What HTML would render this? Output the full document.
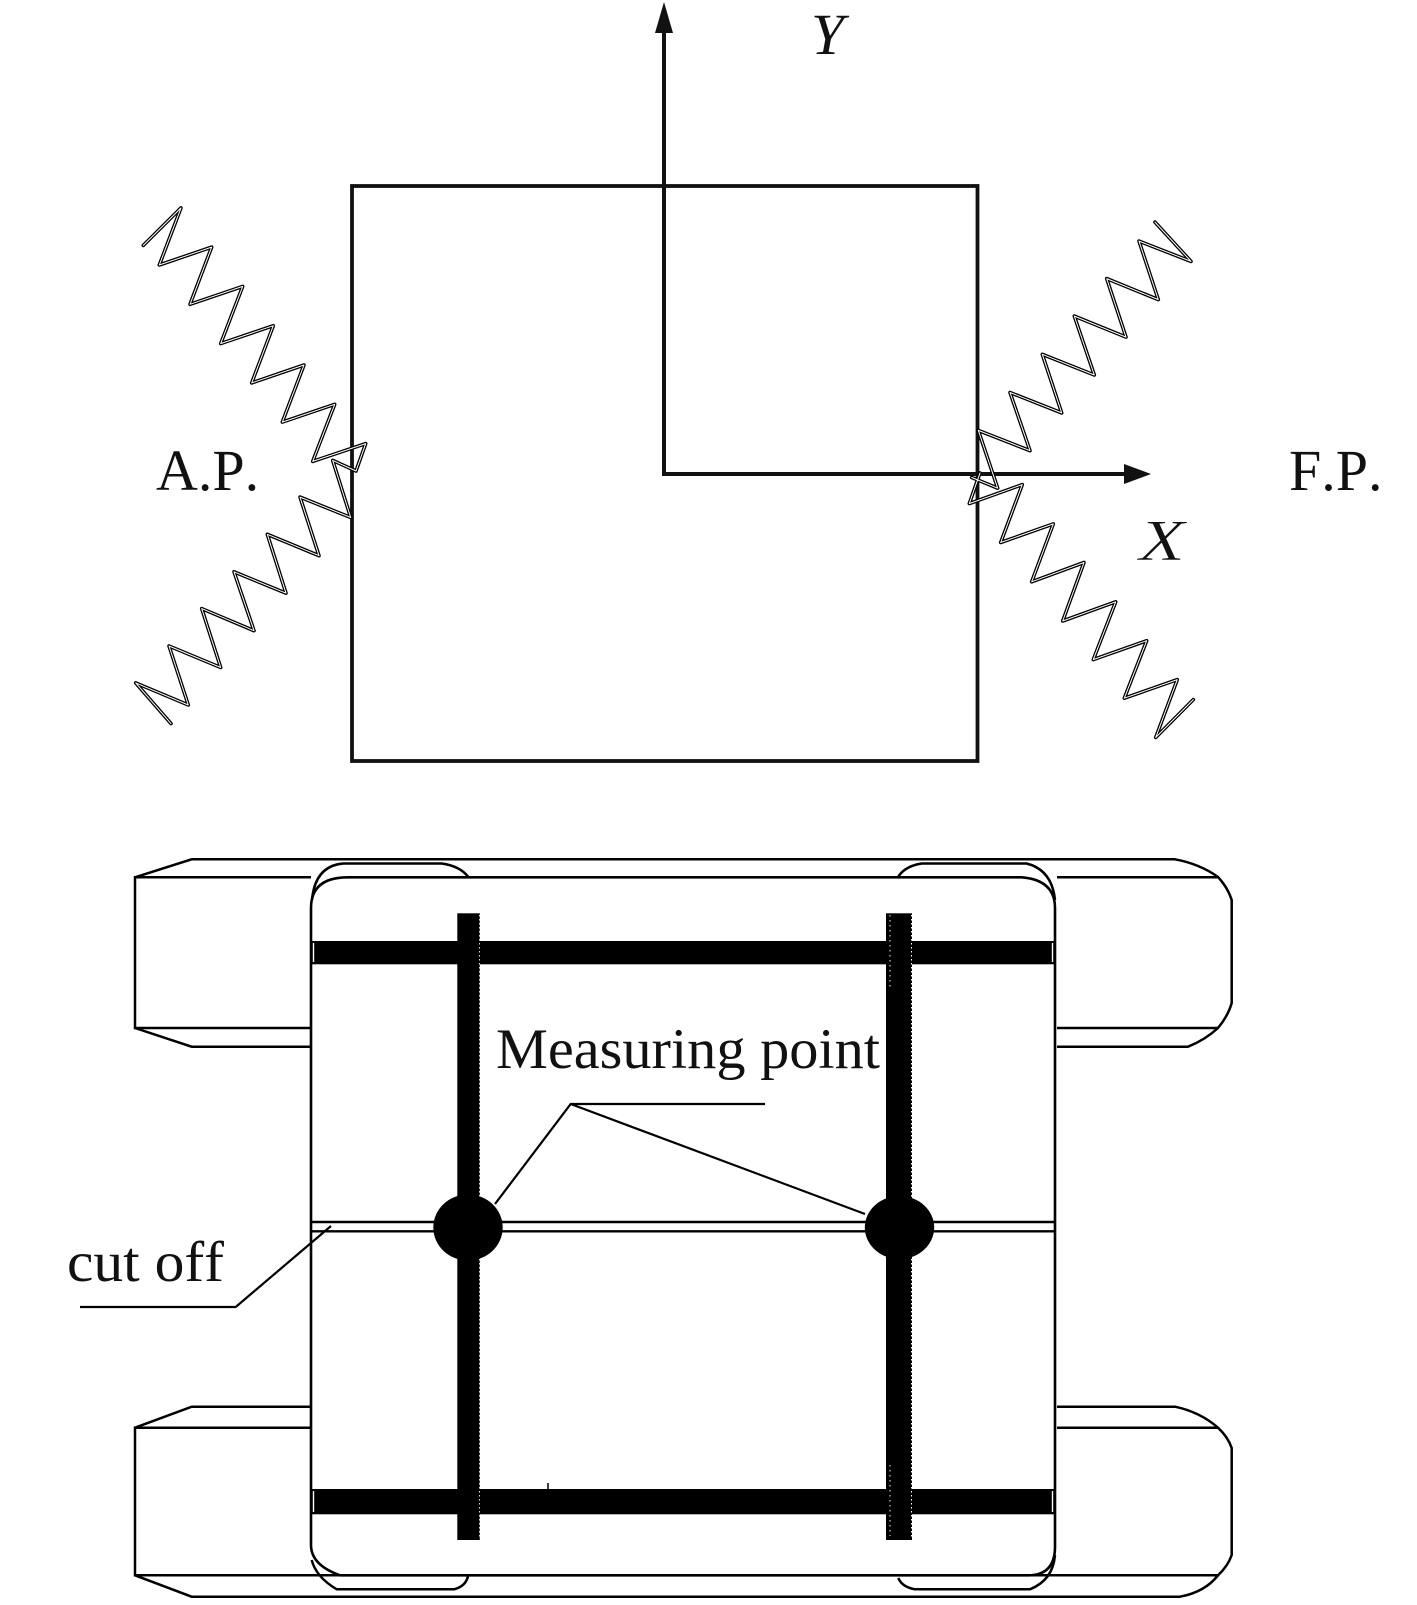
<!DOCTYPE html>
<html lang="en">
<head>
<meta charset="utf-8">
<title>Diagram</title>
<style>
html,body{margin:0;padding:0;background:#fff;width:1417px;height:1605px;overflow:hidden}
svg{display:block}
text{font-family:"Liberation Serif",serif;fill:#111;font-size:58px;font-kerning:none}
.l{fill:none;stroke:#000;stroke-width:2.5;stroke-linejoin:miter}
</style>
</head>
<body>
<svg width="1417" height="1605" viewBox="0 0 1417 1605" xmlns="http://www.w3.org/2000/svg">
<rect width="1417" height="1605" fill="#fff"/>

<!-- top: hull -->
<rect x="352" y="186" width="625.5" height="575" fill="none" stroke="#111" stroke-width="3.8"/>
<line x1="664" y1="30" x2="664" y2="474" stroke="#111" stroke-width="4"/>
<line x1="662" y1="474" x2="1127" y2="474" stroke="#111" stroke-width="4"/>
<polygon points="664,2 655,33 673,33" fill="#111"/>
<polygon points="1151,474 1124,464 1124,484" fill="#111"/>

<!-- springs -->
<g fill="none" stroke-linejoin="round" stroke-linecap="round">
<g stroke="#000" stroke-width="3.6">
<polyline points="143.3,245.4 181,207.9 159.3,265 211.7,247.1 190,304.3 242.7,286.4 220.7,343.6 273.3,325.7 251.7,382.9 304,365 282.3,422.1 334.7,404.3 312.7,461.4 365.7,443.6 356,471 332.7,460.4 350.7,517.5 300,497.1 319,555.7 267.3,534.3 286,593.2 234,571.8 254,630.7 201.7,608.6 220.7,667.5 169,646 188.3,705 135.7,682.9 171,723.6"/>
<polyline points="1155,222.1 1191,261.4 1139,241.1 1158.3,299.6 1106.7,278.6 1126,337.1 1074.3,316.1 1094.3,375 1042.3,354.3 1061.7,412.9 1010,392.5 1030,450.7 978.3,430.4 997.7,488.2 971.7,477.5"/>
<polyline points="980,473 969.3,503.6 1022.3,484.6 1000.7,542.5 1053.3,523.9 1031.7,581.8 1084,562.5 1062.7,621 1115.7,601.8 1093.3,659.6 1146.7,640.7 1124.3,698.2 1177.3,679.6 1155.7,737.5 1193.3,699.6"/>
</g>
<g stroke="#fff" stroke-width="1">
<polyline points="143.3,245.4 181,207.9 159.3,265 211.7,247.1 190,304.3 242.7,286.4 220.7,343.6 273.3,325.7 251.7,382.9 304,365 282.3,422.1 334.7,404.3 312.7,461.4 365.7,443.6 356,471 332.7,460.4 350.7,517.5 300,497.1 319,555.7 267.3,534.3 286,593.2 234,571.8 254,630.7 201.7,608.6 220.7,667.5 169,646 188.3,705 135.7,682.9 171,723.6"/>
<polyline points="1155,222.1 1191,261.4 1139,241.1 1158.3,299.6 1106.7,278.6 1126,337.1 1074.3,316.1 1094.3,375 1042.3,354.3 1061.7,412.9 1010,392.5 1030,450.7 978.3,430.4 997.7,488.2 971.7,477.5"/>
<polyline points="980,473 969.3,503.6 1022.3,484.6 1000.7,542.5 1053.3,523.9 1031.7,581.8 1084,562.5 1062.7,621 1115.7,601.8 1093.3,659.6 1146.7,640.7 1124.3,698.2 1177.3,679.6 1155.7,737.5 1193.3,699.6"/>
</g>
</g>

<!-- top labels -->
<text x="156" y="490">A.P.</text>
<text x="1289" y="490">F.P.</text>
<text x="1139" y="560" font-style="italic" textLength="46" lengthAdjust="spacingAndGlyphs" stroke="#fff" stroke-width="0.6">X</text>
<text x="811" y="54" font-style="italic" textLength="33" lengthAdjust="spacingAndGlyphs">Y</text>

<!-- lower: pontoons top -->
<path class="l" d="M311,877.3 H135 V1028 H311"/>
<path class="l" d="M135,877.3 L191.7,859.3 H1175 Q1200,864 1218,877 Q1228,888 1231.7,900 V1003 Q1228,1016 1218,1028 Q1205,1040 1188,1046.7 H1057"/>
<path class="l" d="M135,1028 L191.7,1046.7 H311"/>
<path class="l" d="M1057,877.3 H1218 M1057,1028 H1218"/>

<!-- lower: pontoons bottom -->
<path class="l" d="M311,1427.7 H135 V1575.3 H1218"/>
<path class="l" d="M135,1427.7 L191.7,1406.7 H311"/>
<path class="l" d="M135,1575.3 L191.7,1596.7 H1180 Q1205,1592 1218,1575.3 Q1228,1566 1231.7,1555 V1448 Q1228,1437 1218,1427.7 Q1200,1412 1175,1406.7 H1057"/>
<path class="l" d="M1057,1427.7 H1218"/>

<!-- deck -->
<path d="M311,908 Q311,877.3 348,877.3 H1021.7 Q1055,880 1055,908 V1546.7 Q1055,1575.3 1028,1575.3 H340 Q311,1565 311,1545 Z" fill="#fff" stroke="#000" stroke-width="2.6"/>
<path class="l" d="M312,900 Q315,866 343,863.5 H441.7 Q460,866 468.3,877"/>
<path class="l" d="M898,877 Q905,866 921.7,863.5 H1026.7 Q1052,870 1055,900"/>
<path class="l" d="M311.7,1560 Q316,1577 336.7,1589.3 H454.3 Q466,1586 468,1576"/>
<path class="l" d="M898.3,1578 Q902,1587 915,1589.3 H1030 Q1053,1580 1055,1555"/>

<!-- cut line -->
<line x1="311" y1="1222" x2="1055" y2="1222" stroke="#000" stroke-width="2.4"/>
<line x1="311" y1="1231.3" x2="1055" y2="1231.3" stroke="#000" stroke-width="2.4"/>

<!-- thick bars -->
<rect x="312" y="941" width="742" height="23.3" fill="#000"/>
<rect x="312" y="1489" width="742" height="25.3" fill="#000"/>
<rect x="457.3" y="913.3" width="22.5" height="626.7" fill="#000"/>
<rect x="886" y="913.3" width="26" height="626.7" fill="#000"/>
<line x1="313.5" y1="943" x2="313.5" y2="962" stroke="#fff" stroke-width="1.4"/>
<line x1="1052.5" y1="943" x2="1052.5" y2="962" stroke="#fff" stroke-width="1.4"/>
<line x1="313.5" y1="1491" x2="313.5" y2="1512" stroke="#fff" stroke-width="1.4"/>
<line x1="1052.5" y1="1491" x2="1052.5" y2="1512" stroke="#fff" stroke-width="1.4"/>
<line x1="890" y1="915" x2="890" y2="990" stroke="#ccc" stroke-width="1.2" stroke-dasharray="1.5 3.5"/>
<line x1="890" y1="1465" x2="890" y2="1536" stroke="#ccc" stroke-width="1.2" stroke-dasharray="1.5 3.5"/>
<line x1="479.5" y1="915" x2="479.5" y2="1538" stroke="#ddd" stroke-width="1" stroke-dasharray="1.5 2.5"/>
<line x1="911.5" y1="915" x2="911.5" y2="1538" stroke="#fff" stroke-width="1" stroke-dasharray="1.5 2.5"/>
<line x1="548" y1="1483" x2="548" y2="1489" stroke="#000" stroke-width="1.5"/>

<!-- measuring points -->
<ellipse cx="468" cy="1227.5" rx="34.7" ry="33" fill="#000"/>
<ellipse cx="899.5" cy="1227.5" rx="34.7" ry="31.5" fill="#000"/>

<!-- leaders -->
<path d="M80,1307 H235.7 L331,1226" fill="none" stroke="#000" stroke-width="2.2"/>
<path d="M765,1104 H570.7 L495,1204 M570.7,1104 L865,1214" fill="none" stroke="#000" stroke-width="2.2"/>

<!-- lower labels -->
<text x="496" y="1068" style="font-size:57px" textLength="384" lengthAdjust="spacingAndGlyphs">Measuring point</text>
<text x="67" y="1281" style="font-size:57px" textLength="157" lengthAdjust="spacingAndGlyphs">cut off</text>
</svg>
</body>
</html>
